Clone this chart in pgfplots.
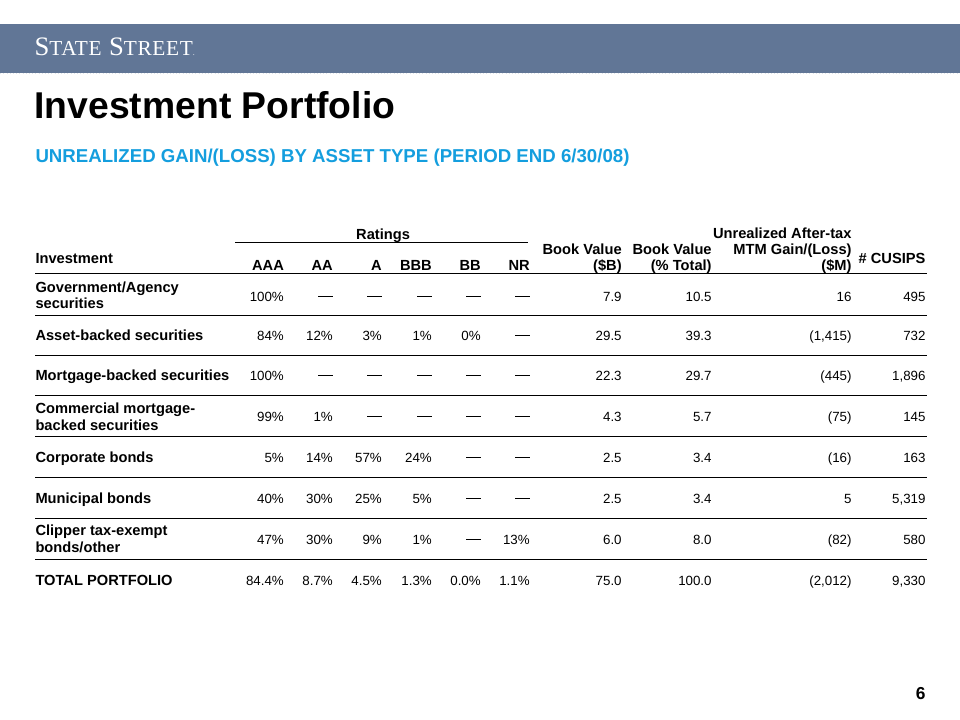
\documentclass[border=0pt]{standalone}
\usepackage{pgfplots}
\pgfplotsset{compat=1.18}
\usepackage{fontspec}
\setmainfont{Liberation Sans}
\newfontfamily\logofont[LetterSpace=3]{Liberation Serif}
\definecolor{band}{RGB}{97,118,150}
\definecolor{subblue}{RGB}{20,158,222}
\newcommand{\cellR}[3]{\node[anchor=base east,inner sep=0pt] at (axis cs:#1,#2) {#3};}
\newcommand{\cellL}[3]{\node[anchor=base west,inner sep=0pt] at (axis cs:#1,#2) {#3};}
\newcommand{\num}{\fontsize{10}{12}\selectfont}
\newcommand{\lab}{\fontsize{11}{13}\selectfont\bfseries}
\newcommand{\rul}[1]{\draw[line width=0.9pt] (axis cs:35,#1) -- (axis cs:927,#1);}
% column right edges
\def\cA{284}\def\cB{333}\def\cC{382}\def\cD{432}\def\cE{481}\def\cF{530}
\def\cG{622}\def\cH{712}\def\cI{852}\def\cJ{926}
\def\d{\rule[3.6pt]{11pt}{0.95pt}}
% ratings cells: baseline, AAA, AA, A, BBB, BB, NR
\newcommand{\rowR}[7]{\cellR{\cA}{#1}{\num #2}\cellR{\cB}{#1}{\num #3}\cellR{\cC}{#1}{\num #4}%
  \cellR{\cD}{#1}{\num #5}\cellR{\cE}{#1}{\num #6}\cellR{\cF}{#1}{\num #7}}
% value cells: baseline, BV, BV%, MTM, CUSIPS
\newcommand{\rowV}[5]{\cellR{\cG}{#1}{\num #2}\cellR{\cH}{#1}{\num #3}\cellR{\cI}{#1}{\num #4}\cellR{\cJ}{#1}{\num #5}}
\begin{document}
\begin{tikzpicture}
\begin{axis}[width=720pt,height=540pt,scale only axis,
  xmin=0,xmax=960,ymin=0,ymax=720,y dir=reverse,hide axis,clip=false]
\fill[white] (axis cs:0,0) rectangle (axis cs:960,720);
\fill[band] (axis cs:0,24) rectangle (axis cs:960,73);
\draw[white!80!band, dotted] (axis cs:0,73.5) -- (axis cs:960,73.5);
% logo
\node[anchor=base west,inner sep=0pt,text=white] at (axis cs:34,56)
  {\logofont\fontsize{20}{20}\selectfont S{\fontsize{16}{16}\selectfont TATE} S{\fontsize{16}{16}\selectfont TREET}{\fontsize{6}{6}\selectfont.}};
% title
\node[anchor=base west,inner sep=0pt] at (axis cs:34,119)
  {\fontsize{28}{30}\selectfont\bfseries Investment Portfolio};
\node[anchor=base west,inner sep=0pt,text=subblue] at (axis cs:35,163)
  {\fontsize{14}{16}\selectfont\bfseries UNREALIZED GAIN/(LOSS) BY ASSET TYPE (PERIOD END 6/30/08)};
% header
\node[anchor=base,inner sep=0pt] at (axis cs:383,240) {\lab Ratings};
\draw[line width=0.9pt] (axis cs:235,243) -- (axis cs:528,243);
\cellL{35}{264}{\lab Investment}
\cellR{\cA}{271}{\lab AAA}
\cellR{\cB}{271}{\lab AA}
\cellR{\cC}{271}{\lab A}
\cellR{\cD}{271}{\lab BBB}
\cellR{\cE}{271}{\lab BB}
\cellR{\cF}{271}{\lab NR}
\cellR{\cG}{255}{\lab Book Value}
\cellR{\cG}{271}{\lab (\$B)}
\cellR{\cH}{255}{\lab Book Value}
\cellR{\cH}{271}{\lab (\% Total)}
\cellR{\cI}{239}{\lab Unrealized After-tax}
\cellR{\cI}{255}{\lab MTM Gain/(Loss)}
\cellR{\cI}{271}{\lab (\$M)}
\cellR{\cJ}{264}{\lab \# CUSIPS}
\rul{274}
% row labels
\cellL{35}{293}{\lab Government/Agency}
\cellL{35}{309}{\lab securities}
\cellL{35}{341}{\lab Asset-backed securities}
\cellL{35}{381}{\lab Mortgage-backed securities}
\cellL{35}{414}{\lab Commercial mortgage-}
\cellL{35}{431}{\lab backed securities}
\cellL{35}{463}{\lab Corporate bonds}
\cellL{35}{504}{\lab Municipal bonds}
\cellL{35}{536}{\lab Clipper tax-exempt}
\cellL{35}{553}{\lab bonds/other}
\cellL{35}{586}{\lab TOTAL PORTFOLIO}
% data rows
\rowR{302}{100\%}{\d}{\d}{\d}{\d}{\d}      \rowV{302}{7.9}{10.5}{16}{495}
\rowR{341}{84\%}{12\%}{3\%}{1\%}{0\%}{\d}  \rowV{341}{29.5}{39.3}{(1,415)}{732}
\rowR{381}{100\%}{\d}{\d}{\d}{\d}{\d}      \rowV{381}{22.3}{29.7}{(445)}{1,896}
\rowR{422}{99\%}{1\%}{\d}{\d}{\d}{\d}      \rowV{422}{4.3}{5.7}{(75)}{145}
\rowR{463}{5\%}{14\%}{57\%}{24\%}{\d}{\d}  \rowV{463}{2.5}{3.4}{(16)}{163}
\rowR{504}{40\%}{30\%}{25\%}{5\%}{\d}{\d}  \rowV{504}{2.5}{3.4}{5}{5,319}
\rowR{545}{47\%}{30\%}{9\%}{1\%}{\d}{13\%} \rowV{545}{6.0}{8.0}{(82)}{580}
\rowR{586}{84.4\%}{8.7\%}{4.5\%}{1.3\%}{0.0\%}{1.1\%} \rowV{586}{75.0}{100.0}{(2,012)}{9,330}
\rul{316}\rul{356}\rul{396}\rul{437}\rul{478}\rul{519}\rul{560}
% page number
\node[anchor=base east,inner sep=0pt] at (axis cs:926,700) {\fontsize{13}{14}\selectfont\bfseries 6};
\end{axis}
\end{tikzpicture}
\end{document}
